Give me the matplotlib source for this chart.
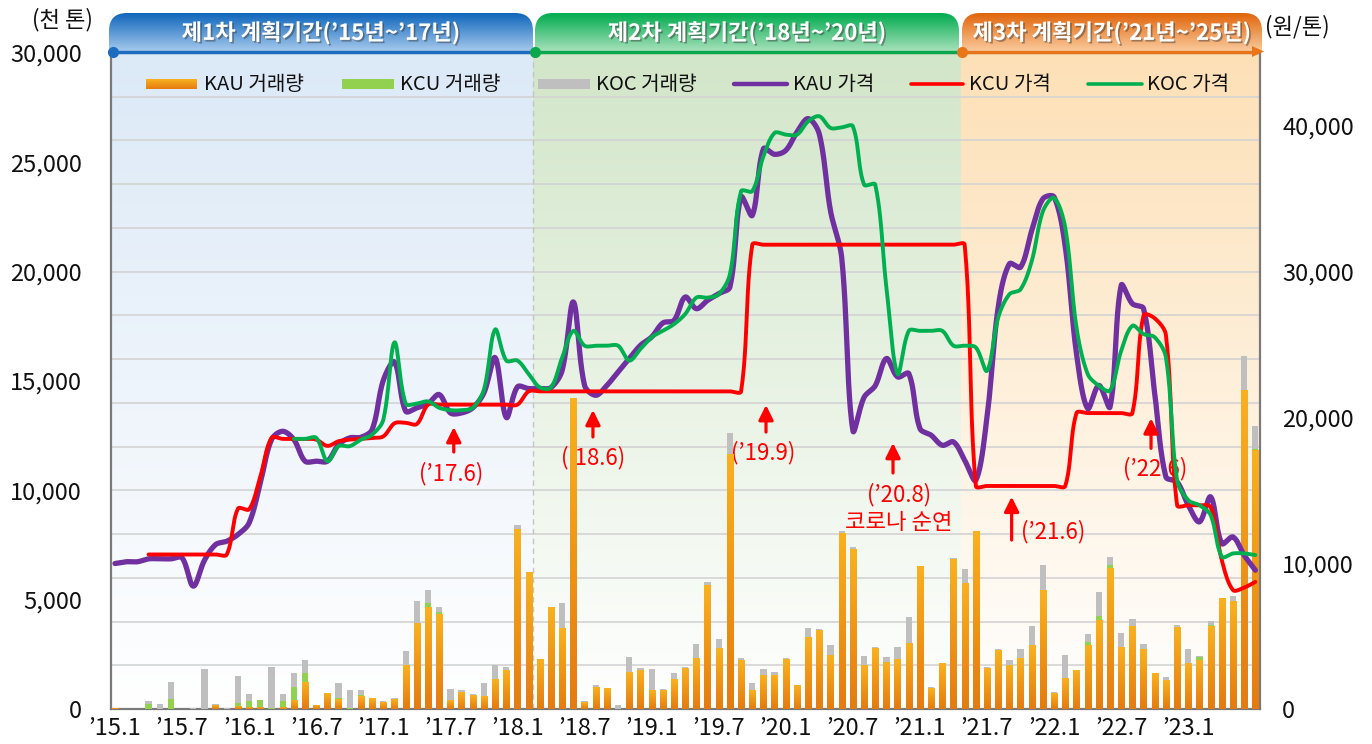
import numpy as np
import matplotlib
matplotlib.use("Agg")
import matplotlib.pyplot as plt
from matplotlib.path import Path
from matplotlib.patches import PathPatch, Rectangle, FancyArrowPatch, Polygon
from matplotlib.colors import to_rgb
import matplotlib.patheffects as pe

plt.rcParams['font.family'] = ['Noto Sans CJK KR', 'DejaVu Sans']

# ---------------- data ----------------
tick_labels = ["’15.1", "’15.7", "’16.1", "’16.7", "’17.1", "’17.7", "’18.1", "’18.7", "’19.1",
               "’19.7", "’20.1", "’20.7", "’21.1", "’21.7", "’22.1", "’22.7", "’23.1"]

# monthly trading volume (thousand t), 2015.1 .. 2023.7 (stacked)
kau_vol = [40, 0, 0, 0, 0, 0, 0, 0, 0, 150,
           0, 120, 80, 80, 0, 90, 370, 1190, 180, 700,
           440, 0, 560, 460, 300, 430, 2000, 3930, 4660, 4300,
           380, 750, 620, 560, 1370, 1780, 8210, 6230, 2250, 4620,
           3660, 14180, 290, 990, 940, 0, 1660, 1740, 840, 840,
           1360, 1830, 2320, 5640, 2760, 11620, 2240, 850, 1540, 1540,
           2270, 1070, 3290, 3580, 2450, 8010, 7280, 2000, 2770, 2130,
           2280, 3000, 6520, 930, 2070, 6850, 5740, 8120, 1860, 2680,
           2000, 2320, 2890, 5410, 720, 1390, 1740, 2920, 4070, 6410,
           2820, 3780, 2700, 1630, 1290, 3730, 2070, 2210, 3760, 5040,
           4920, 14560, 11840]
kcu_vol = [0, 0, 0, 240, 0, 470, 0, 0, 0, 0,
           0, 170, 270, 330, 30, 290, 620, 460, 0, 0,
           80, 40, 60, 0, 0, 0, 0, 0, 170, 120,
           0, 0, 0, 0, 0, 0, 0, 0, 0, 0,
           0, 0, 0, 0, 0, 0, 0, 0, 0, 0,
           0, 0, 0, 0, 0, 0, 0, 0, 0, 0,
           0, 0, 0, 0, 0, 0, 0, 0, 0, 0,
           0, 0, 0, 0, 0, 0, 0, 0, 0, 0,
           0, 0, 0, 0, 0, 0, 0, 160, 200, 190,
           0, 0, 0, 0, 0, 0, 0, 150, 90, 0,
           0, 0, 50]
koc_vol = [0, 0, 0, 130, 250, 780, 0, 40, 1840, 100,
           40, 1230, 350, 20, 1900, 320, 670, 600, 0, 0,
           670, 840, 260, 30, 70, 90, 670, 1020, 620, 260,
           550, 130, 80, 640, 660, 150, 210, 0, 0, 60,
           1200, 0, 60, 120, 0, 200, 730, 150, 1000, 90,
           300, 100, 670, 180, 450, 1010, 80, 320, 300, 170,
           50, 0, 430, 90, 490, 140, 140, 440, 50, 260,
           570, 1220, 0, 60, 0, 50, 660, 40, 40, 80,
           250, 440, 920, 1190, 70, 1090, 40, 360, 1090, 360,
           670, 350, 290, 30, 190, 120, 690, 50, 190, 50,
           270, 1580, 1050]

# monthly prices (won / t)
nan = float('nan')
kau_price = [9980, 10100, 10100, 10300, 10300, 10300, 10370, 8430, 10200, 11280,
             11510, 11970, 12770, 15510, 18480, 19050, 18480, 17000, 17000, 17000,
             18140, 18600, 18640, 19170, 22550, 23800, 20430, 20660, 20950, 21570,
             20310, 20310, 20660, 21690, 24100, 20000, 22100, 21980, 21980, 22050,
             23240, 27920, 22200, 21520, 22200, 23120, 24040, 24950, 25520, 26480,
             26660, 28260, 27460, 28030, 28490, 28950, 35120, 33860, 38430, 38050,
             38320, 39580, 40500, 39430, 34160, 30960, 19100, 21380, 22180, 24040,
             22780, 23010, 19240, 18780, 18090, 18320, 17060, 15690, 20030, 27570,
             30540, 30310, 32820, 35000, 35120, 31690, 24380, 20610, 22200, 20720,
             29060, 27800, 27460, 21620, 15920, 15580, 13980, 12840, 14550, 11350,
             11800, 10550, 9520]
kcu_price = [nan, nan, nan, 10600, 10600, 10600, 10600, 10600, 10600, 10600,
             10600, 13750, 13700, 15950, 18600, 18530, 18530, 18530, 18480, 18050,
             18370, 18480, 18530, 18600, 18700, 19600, 19630, 19550, 20880, 20880,
             20880, 20880, 20880, 20880, 20880, 20880, 20880, 21790, 21790, 21790,
             21790, 21790, 21790, 21790, 21790, 21790, 21790, 21790, 21790, 21790,
             21790, 21790, 21790, 21790, 21790, 21790, 21790, 31850, 31850, 31850,
             31850, 31850, 31850, 31850, 31850, 31850, 31850, 31850, 31850, 31850,
             31850, 31850, 31850, 31850, 31850, 31850, 31850, 15300, 15300, 15300,
             15300, 15300, 15300, 15300, 15300, 15300, 20300, 20300, 20300, 20300,
             20300, 20300, 27000, 26800, 25650, 13980, 13980, 13980, 13850, 10200,
             8160, 8330, 8720]
koc_price = [nan] * 16 + [
             18530, 18530, 18600, 17000,
             18030, 18030, 18480, 18820, 19850, 25150, 20950, 20950, 21100, 20660,
             20500, 20500, 20660, 21920, 26030, 23900, 23900, 22980, 22060, 22060,
             24120, 25940, 24920, 24920, 24920, 24920, 23900, 24700, 25500, 25940,
             26400, 27090, 28220, 28220, 28450, 29820, 35520, 35520, 37920, 39520,
             39400, 39400, 40310, 40660, 39860, 39900, 39970, 35970, 35970, 28900,
             22980, 25940, 25940, 25940, 25940, 24920, 24920, 24800, 23200, 26860,
             28450, 28790, 30730, 34150, 35060, 33000, 26180, 22980, 22180, 21840,
             24580, 26290, 25720, 25500, 24120, 15690, 14320, 13980, 13300, 10440,
             10670, 10670, 10560]

# ---------------- helpers ----------------
PX0, PXS = 115.0, 11.18          # layout: pixel of first month, pixels per month
PY_PER_WON = 656.0 / 45000.0     # layout: pixels per won on the right axis


def smooth_xy(x, y, sx=PXS, sy=PY_PER_WON, n=24):
    """Excel-like smoothed line: Bezier segments whose tangent lengths are
    weighted by the neighbouring chord lengths (in screen space)."""
    X = np.asarray(x, float) * sx
    Y = np.asarray(y, float) * sy
    P = np.column_stack([X, Y])
    N = len(P)
    d = np.hypot(np.diff(X), np.diff(Y))
    cin = P.copy()
    cout = P.copy()
    for i in range(N):
        if i == 0:
            cout[i] = P[0] + (P[1] - P[0]) / 6.0
        elif i == N - 1:
            cin[i] = P[i] - (P[i] - P[i - 1]) / 6.0
        else:
            Tn = P[i + 1] - P[i - 1]
            dp, dn = d[i - 1], d[i]
            s = dp + dn if dp + dn > 0 else 1.0
            cin[i] = P[i] - Tn * dp / s / 3.0
            cout[i] = P[i] + Tn * dn / s / 3.0
    t = np.linspace(0, 1, n, endpoint=False)[:, None]
    segs = []
    for i in range(N - 1):
        p1, c1, c2, p2 = P[i], cout[i], cin[i + 1], P[i + 1]
        segs.append((1 - t) ** 3 * p1 + 3 * (1 - t) ** 2 * t * c1 + 3 * (1 - t) * t ** 2 * c2 + t ** 3 * p2)
    segs.append(P[-1][None, :])
    out = np.vstack(segs)
    return out[:, 0] / sx, out[:, 1] / sy


def vgrad(top, bottom, n=128):
    t = np.linspace(0, 1, n)[:, None]
    c = (1 - t) * np.array(to_rgb(top)) + t * np.array(to_rgb(bottom))
    return c[:, None, :]


# ---------------- figure ----------------
W, H = 1372, 744
fig = plt.figure(figsize=(W / 100, H / 100), dpi=100)
fig.patch.set_facecolor('white')

L, R, T, B = 111, 1260, 53, 709
ax = fig.add_axes([L / W, 1 - B / H, (R - L) / W, (B - T) / H])
ax2 = ax.twinx()
xlim = ((L - PX0) / PXS, (R - PX0) / PXS)
b1 = (532.7 - PX0) / PXS
b2 = (961.0 - PX0) / PXS

# phase backgrounds
for a, b, col in [(xlim[0], b1, '#dce9f7'), (b1, b2, '#d2e6c9'), (b2, xlim[1], '#fde0b6')]:
    ax.imshow(vgrad(col, '#ffffff'), extent=[a, b, 0, 30000], origin='upper',
              aspect='auto', zorder=0, interpolation='bilinear')

for v in np.arange(0, 30001, 2000):
    ax.axhline(v, color='#d3d3d3', lw=1.2, zorder=1)
ax.axvline(b1, color='#c4c4c4', lw=1.0, ls=(0, (4, 3)), zorder=1)

# stacked bars
x = np.arange(len(kau_vol))
kau_v = np.array(kau_vol, float)
kcu_v = np.array(kcu_vol, float)
koc_v = np.array(koc_vol, float)
bw = 0.56
bars_o = ax.bar(x, kau_v, bw, color='#f09a18', zorder=3, linewidth=0)
ax.bar(x, kcu_v, bw, bottom=kau_v, color='#92d050', zorder=3, linewidth=0)
ax.bar(x, koc_v, bw, bottom=kau_v + kcu_v, color='#bfbfbf', zorder=3, linewidth=0)
og = vgrad('#f9b11f', '#e47b10')
for p in bars_o:
    h = p.get_height()
    if h > 0:
        ax.imshow(og, extent=[p.get_x(), p.get_x() + p.get_width(), 0, h], origin='upper',
                  aspect='auto', zorder=3.1, interpolation='bilinear')

ax.set_xlim(xlim)
ax.set_ylim(0, 30000)
ax.set_xticks(np.arange(0, 97, 6))
ax.set_xticklabels(tick_labels)
ax.tick_params(axis='x', length=0, pad=6, labelsize=17, labelcolor='#111111')
ax.set_yticks(np.arange(0, 30001, 5000))
ax.set_yticklabels([f"{v:,}" for v in range(0, 30001, 5000)])
ax.tick_params(axis='y', length=0, pad=21, labelsize=17, labelcolor='#111111')
for s in ax.spines.values():
    s.set_color('#7a7a7a')
    s.set_linewidth(1.6)

# price lines
for vals, col, lw in [(kau_price, '#7030a0', 3.8), (kcu_price, '#ff0000', 2.8), (koc_price, '#00b050', 2.8)]:
    v = np.array(vals, float)
    m = ~np.isnan(v)
    sx, sy = smooth_xy(x[m], v[m])
    ax2.plot(sx, sy, color=col, lw=lw, solid_capstyle='round', solid_joinstyle='round', zorder=3)

ax2.set_xlim(xlim)
ax2.set_ylim(0, 45000)
ax2.set_yticks(np.arange(0, 40001, 10000))
ax2.set_yticklabels([f"{v:,}" for v in range(0, 40001, 10000)])
ax2.tick_params(axis='y', length=0, pad=16, labelsize=17, labelcolor='#111111')
for s in ax2.spines.values():
    s.set_visible(False)

# annotations (month index, won/t)
arrows = [(30.3, 19340, 17630), (42.75, 20510, 18660), (58.23, 20850, 19000),
          (69.59, 18250, 16190), (80.2, 14560, 11590), (92.67, 19940, 17880)]
for k, tip, tail in arrows:
    ax2.add_patch(FancyArrowPatch((k, tail), (k, tip), arrowstyle='-|>', mutation_scale=22,
                                  color='#ff0000', lw=2.3, shrinkA=0, shrinkB=0, zorder=5))
notes = [(30.05, 16120, "(’17.6)", 'center'), (42.75, 17220, "(’18.6)", 'center'),
         (57.96, 17560, "(’19.9)", 'center'), (70.13, 14680, "(’20.8)", 'center'),
         (70.13, 12760, "코로나 순연", 'center'), (81.0, 12140, "(’21.6)", 'left'),
         (93.02, 16460, "(’22.6)", 'center')]
for k, yv, txt, ha in notes:
    # drawn in the bar axes (below the bars), positioned in price units
    ax.text(k, yv, txt, transform=ax2.transData, color='#ff0000', fontsize=16,
            ha=ha, va='center', zorder=2.5)

# ---------------- overlay (headers, legend, units) ----------------
hax = fig.add_axes([0, 0, 1, 1], zorder=10)
hax.set_xlim(0, W)
hax.set_ylim(H, 0)
hax.axis('off')

y0, y1, r = 13, 52, 18
tabs = [(109, 533, '#0e66bb', '#a9cbee', "제1차 계획기간(’15년~’17년)", 321),
        (535, 959, '#00ab4e', '#abe2bd', "제2차 계획기간(’18년~’20년)", 747),
        (962, 1262, '#e0650a', '#fbcca0', "제3차 계획기간(’21년~’25년)", 1112)]
for xa, xb, ctop, cbot, txt, xc in tabs:
    verts = [(xa, y1), (xa, y0 + r), (xa, y0), (xa + r, y0), (xb - r, y0), (xb, y0), (xb, y0 + r),
             (xb, y1), (xa, y1)]
    codes = [Path.MOVETO, Path.LINETO, Path.CURVE3, Path.CURVE3, Path.LINETO, Path.CURVE3,
             Path.CURVE3, Path.LINETO, Path.CLOSEPOLY]
    patch = PathPatch(Path(verts, codes), facecolor='none', edgecolor='none')
    hax.add_patch(patch)
    im = hax.imshow(vgrad(ctop, cbot), extent=[xa, xb, y1, y0], origin='upper', aspect='auto',
                    interpolation='bilinear', zorder=1)
    im.set_clip_path(patch)
    hax.text(xc, 33, txt, color='white', fontsize=16, fontweight='bold', ha='center', va='center',
             zorder=3, path_effects=[pe.withSimplePatchShadow(offset=(1.2, -1.2), shadow_rgbFace='#333333',
                                                                 alpha=0.45)])

yl = 51.5
hax.plot([111, 533], [yl, yl], color='#1d6cc0', lw=2.4, zorder=4, solid_capstyle='butt')
hax.plot([535, 960], [yl, yl], color='#0aa84e', lw=2.4, zorder=4, solid_capstyle='butt')
hax.plot([962, 1254], [yl, yl], color='#e8751a', lw=2.4, zorder=4, solid_capstyle='butt')
hax.add_patch(Polygon([(1252, yl - 5.5), (1264, yl), (1252, yl + 5.5)], closed=True,
                      facecolor='#e8751a', edgecolor='none', zorder=4))
for xd, cd in [(113, '#1d6cc0'), (535, '#0aa84e'), (962, '#e8751a')]:
    hax.plot(xd, yl, 'o', ms=7, color=cd, zorder=5)

# legend
ly = 84
legend_items = [('patch', 'orange', 146, 197, "KAU 거래량", 204),
                ('patch', '#92d050', 342, 394, "KCU 거래량", 400),
                ('patch', '#bfbfbf', 538, 590, "KOC 거래량", 596),
                ('line', '#7030a0', 734, 787, "KAU 가격", 793),
                ('line', '#ff0000', 911, 963, "KCU 가격", 969),
                ('line', '#00b050', 1088, 1142, "KOC 가격", 1147)]
for kind, col, xa, xb, txt, xt in legend_items:
    if kind == 'patch':
        if col == 'orange':
            hax.imshow(og, extent=[xa, xb, ly + 5, ly - 5], origin='upper', aspect='auto',
                       interpolation='bilinear', zorder=4)
        else:
            hax.add_patch(Rectangle((xa, ly - 5), xb - xa, 10, facecolor=col, edgecolor='none', zorder=4))
    else:
        hax.plot([xa, xb], [ly, ly], color=col, lw=3.2 if col == '#7030a0' else 2.6,
                 solid_capstyle='round', zorder=4)
    hax.text(xt, ly, txt, fontsize=14.5, ha='left', va='center', color='#111111', zorder=4)

hax.text(62, 20, "(천 톤)", fontsize=16, ha='center', va='center', color='#111111')
hax.text(1297, 27, "(원/톤)", fontsize=16, ha='center', va='center', color='#111111')
hax.set_xlim(0, W)
hax.set_ylim(H, 0)

fig.savefig("out.png", dpi=100)
